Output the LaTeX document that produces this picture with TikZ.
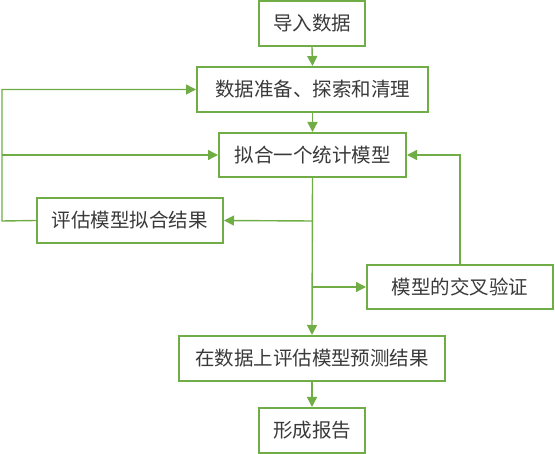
\documentclass[tikz,border=0pt]{standalone}
\usepackage{fontspec}
\newfontfamily\cjk{Noto Sans CJK SC}
\usetikzlibrary{arrows.meta}
\definecolor{boxgreen}{HTML}{70AD47}
\definecolor{txt}{HTML}{3A3A3A}
\tikzset{
  stepbox/.style={draw=boxgreen, line width=2pt, fill=white, inner sep=0pt,
    font=\cjk\fontsize{19.5pt}{21pt}\selectfont, text=txt, anchor=center},
  conn/.style={draw=boxgreen, line width=1.4pt,
    -{Triangle[length=10pt,width=10pt]}},
  plain/.style={draw=boxgreen, line width=1.4pt}
}
\begin{document}
\begin{tikzpicture}[x=1pt,y=-1pt]
\useasboundingbox (0,0) rectangle (555,454);
\node[stepbox, minimum width=106pt, minimum height=45pt] (imp) at (312,23.5) {导入数据};
\node[stepbox, minimum width=231pt, minimum height=45pt] (prep) at (312.5,89.5) {数据准备、探索和清理};
\node[stepbox, minimum width=187pt, minimum height=44pt] (fit) at (312.5,155) {拟合一个统计模型};
\node[stepbox, minimum width=186pt, minimum height=45pt] (eval) at (130,220.5) {评估模型拟合结果};
\node[stepbox, minimum width=186pt, minimum height=44pt] (cv) at (460,287) {模型的交叉验证};
\node[stepbox, minimum width=266pt, minimum height=45pt] (pred) at (312,358.5) {在数据上评估模型预测结果};
\node[stepbox, minimum width=106pt, minimum height=45pt] (rep) at (312,430.5) {形成报告};
\coordinate (b1) at (312,221);
\coordinate (b2) at (312,287);
\coordinate (lc) at (2,221);
\coordinate (lm) at (2,155);
\draw[conn] (imp.south) -- (prep.north);
\draw[conn] (prep.south) -- (fit.north);
\draw[conn] (fit.south) -- (pred.north);
\draw[conn] (b1) -- (eval.east);
\draw[conn] (b2) -- (cv.west);
\draw[conn] (cv.north) |- (fit.east);
\draw[conn] (eval.west) -- (lc) |- (prep.west);
\draw[conn] (lm) -- (fit.west);
\draw[conn] (pred.south) -- (rep.north);
\end{tikzpicture}
\end{document}
